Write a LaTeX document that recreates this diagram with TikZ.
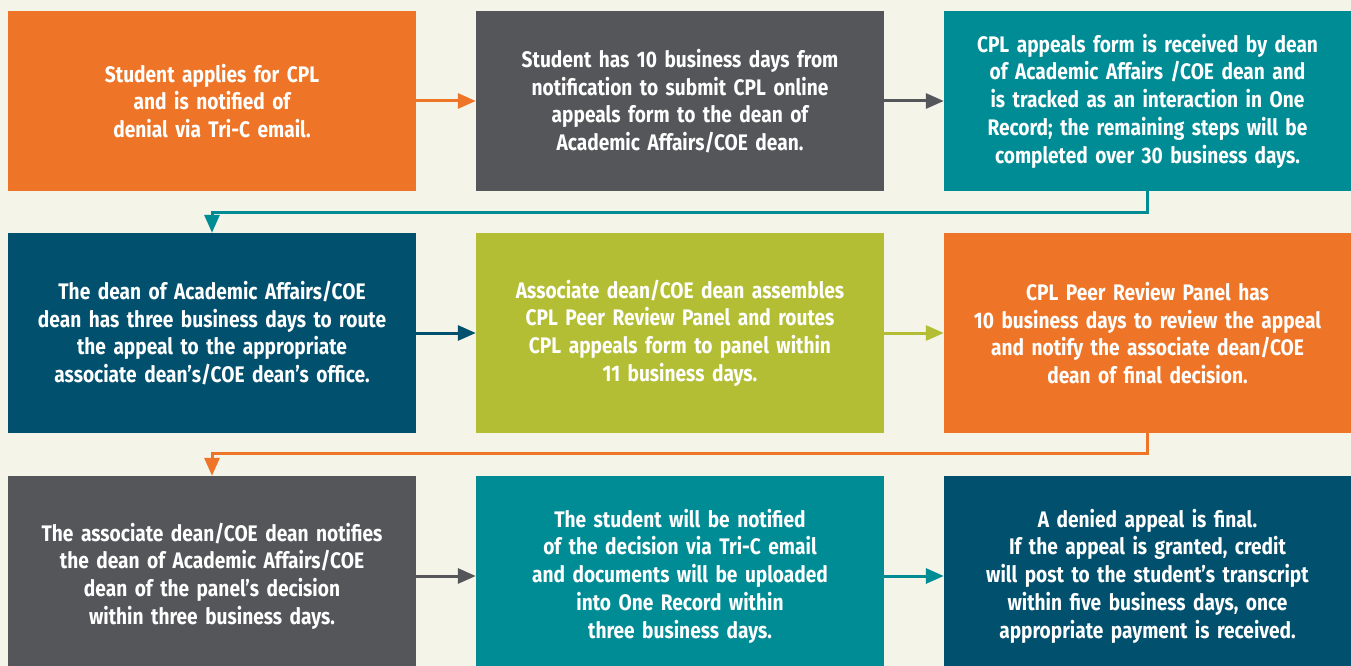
\documentclass[tikz,border=0pt]{standalone}
\usepackage{fontspec}
\setmainfont{Fira Sans}[FakeStretch=0.85]
\usetikzlibrary{arrows.meta}
\definecolor{ocol}{RGB}{238,117,40}
\definecolor{gcol}{RGB}{85,86,90}
\definecolor{tcol}{RGB}{0,140,149}
\definecolor{bcol}{RGB}{0,80,110}
\definecolor{lcol}{RGB}{179,190,53}
\definecolor{bgcol}{RGB}{244,244,232}
\tikzset{every picture/.style={x=1pt,y=-1pt}}
\tikzset{stepbox/.style={rectangle,inner sep=0pt,minimum width=408,text width=404,align=center,text=white,font=\bfseries\fontsize{22.5}{27.7}\selectfont}}
\tikzset{edge/.style={line width=3,-{Triangle[length=18,width=15]}}}

\begin{document}
\begin{tikzpicture}
\fill [bgcol] (0,0) rectangle (1351,666);
\useasboundingbox (0,0) rectangle (1351,666);

\node [stepbox,fill=ocol,minimum height=180] (s1) at (212,101) {Student applies for CPL\\and is notified of\\denial via Tri-C email.};
\node [stepbox,fill=gcol,minimum height=180] (s2) at (680,101) {Student has 10 business days from\\notification to submit CPL online\\appeals form to the dean of\\Academic Affairs/COE dean.};
\node [stepbox,fill=tcol,minimum height=180,minimum width=407] (s3) at (1147.5,101) {CPL appeals form is received by dean\\of Academic Affairs /COE dean and\\is tracked as an interaction in One\\Record; the remaining steps will be\\completed over 30 business days.};

\node [stepbox,fill=bcol,minimum height=200] (s4) at (212,333) {The dean of Academic Affairs/COE\\dean has three business days to route\\the appeal to the appropriate\\associate dean’s/COE dean’s office.};
\node [stepbox,fill=lcol,minimum height=200] (s5) at (680,333) {Associate dean/COE dean assembles\\CPL Peer Review Panel and routes\\CPL appeals form to panel within\\11 business days.};
\node [stepbox,fill=ocol,minimum height=200,minimum width=407] (s6) at (1147.5,333) {CPL Peer Review Panel has\\10 business days to review the appeal\\and notify the associate dean/COE\\dean of final decision.};

% bottom row runs off the page
\node [stepbox,fill=gcol,minimum height=200] (s7) at (212,576) {The associate dean/COE dean notifies\\the dean of Academic Affairs/COE\\dean of the panel’s decision\\within three business days.};
\node [stepbox,fill=tcol,minimum height=200] (s8) at (680,576) {The student will be notified\\of the decision via Tri-C email\\and documents will be uploaded\\into One Record within\\three business days.};
\node [stepbox,fill=bcol,minimum height=200,minimum width=407] (s9) at (1147.5,576) {A denied appeal is final.\\If the appeal is granted, credit\\will post to the student’s transcript\\within five business days, once\\appropriate payment is received.};

\draw [ocol,edge] (s1) -- (s2);
\draw [gcol,edge] (s2) -- (s3);
\draw [tcol,edge] (s3.south) -- ++(0,21) -| (s4.north);
\draw [bcol,edge] (s4) -- (s5);
\draw [lcol,edge] (s5) -- (s6);
\draw [ocol,edge] (s6.south) -- ++(0,20) -| (s7.north);
\draw [gcol,edge] (s7) -- (s8);
\draw [tcol,edge] (s8) -- (s9);
\end{tikzpicture}
\end{document}
